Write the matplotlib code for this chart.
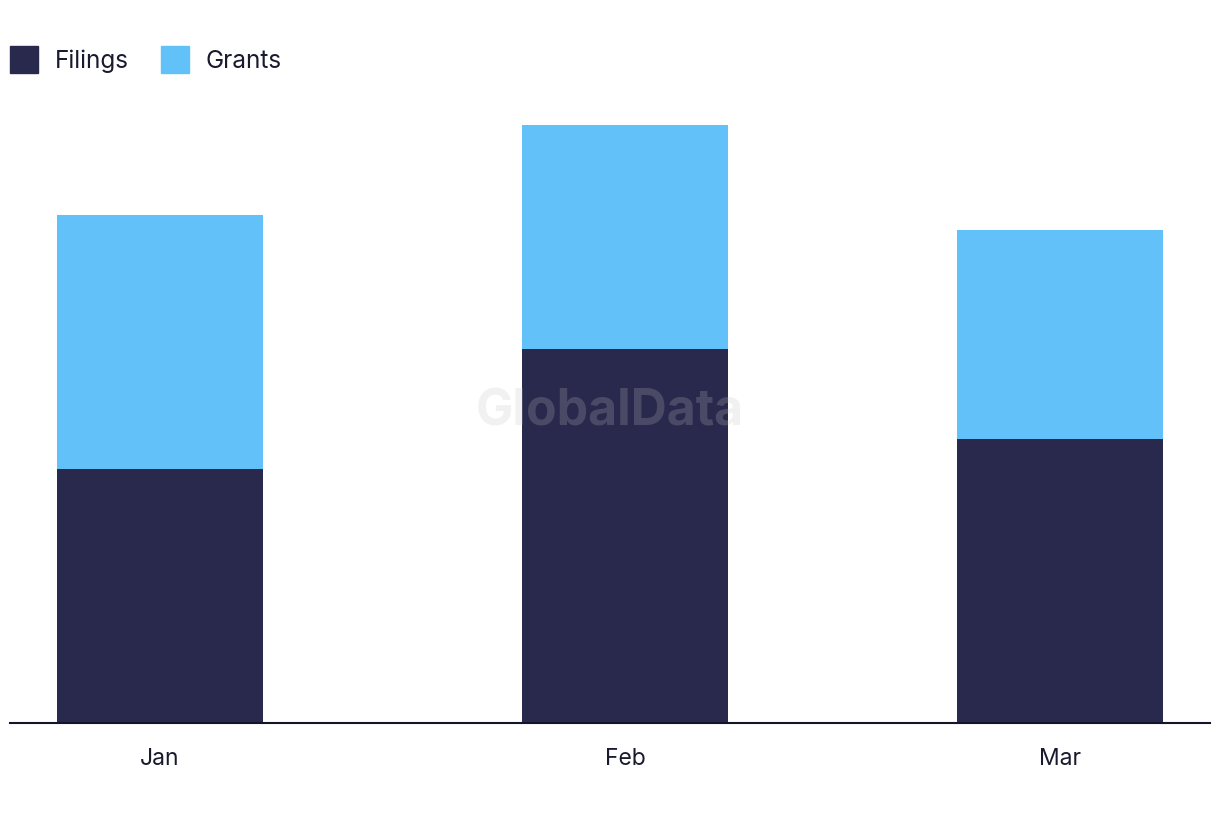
import pandas as pd
import matplotlib
matplotlib.use("Agg")
import matplotlib.pyplot as plt
from matplotlib.patches import Patch

# monthly patent counts
months = ['Jan', 'Feb', 'Mar']
dates = pd.to_datetime(['2024-01-01', '2024-02-01', '2024-03-01'])
filings = [17, 25, 19]
grants = [17, 15, 14]

col_filings = '#28294c'
col_grants = '#62c1f8'

plt.rcParams['font.family'] = ['Inter', 'DejaVu Sans']

fig = plt.figure(figsize=(12.2, 8.22), dpi=100)
ax = fig.add_axes([10 / 1220, 1 - 723 / 822, 1200 / 1220, 628 / 822])

width = 206 / 15  # days
ax.bar(dates, filings, width, color=col_filings, label='Filings')
ax.bar(dates, grants, width, bottom=filings, color=col_grants, label='Grants')

ax.set_xlim(dates[0] - pd.Timedelta(days=10), dates[0] + pd.Timedelta(days=70))
ax.set_ylim(0, 42)
ax.set_xticks(dates)
ax.set_xticklabels(months, fontsize=16.5, color='#1a1a2e')
ax.tick_params(axis='x', length=0, pad=18)
ax.set_yticks([])
for s in ['top', 'right', 'left']:
    ax.spines[s].set_visible(False)
ax.spines['bottom'].set_color('#14142b')
ax.spines['bottom'].set_linewidth(1.5)

handles = [Patch(color=col_filings, label='Filings'), Patch(color=col_grants, label='Grants')]
fig.legend(handles=handles, loc='upper left', bbox_to_anchor=(10 / 1220, 1 - 46 / 822), frameon=False,
           ncol=2, fontsize=17.5, handlelength=1.15, handleheight=1.15 * 28 / 24, handletextpad=0.7,
           columnspacing=1.3, labelcolor='#1a1a2e', borderaxespad=0, borderpad=0)

fig.text(0.5, 1 - 412 / 822, 'GlobalData', ha='center', va='center', fontsize=36,
         fontweight='bold', color='#c3c3c3', alpha=0.22)

fig.savefig('out.png')
